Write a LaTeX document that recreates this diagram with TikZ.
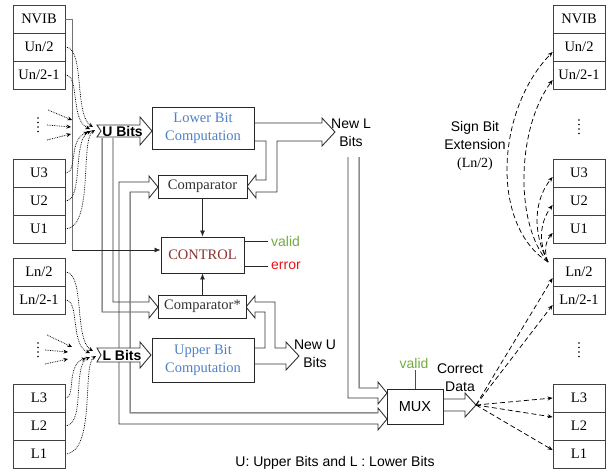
\documentclass[tikz,border=0pt]{standalone}
\usepackage{fontspec}
\setmainfont{Liberation Serif}
\setsansfont{Liberation Sans}
\usetikzlibrary{arrows.meta,calc}
\definecolor{blueT}{RGB}{79,129,199}
\definecolor{ctrlT}{RGB}{140,50,50}
\definecolor{validG}{RGB}{112,173,60}
\definecolor{errR}{RGB}{235,20,25}
\definecolor{cmpT}{RGB}{50,50,50}
\tikzset{
  cell/.style={draw=black!75, line width=0.8pt, minimum width=52pt, minimum height=28pt, inner sep=0pt, font={\fontsize{14.5}{18}\selectfont}},
  box/.style={draw=black!85, fill=white, line width=0.9pt, inner sep=0pt, align=center, font={\fontsize{14.5}{18}\selectfont}},
  busA/.style={draw=black!80, line width=0.9pt, line join=miter},
  busB/.style={draw=black!45, line width=0.9pt},
  sig/.style={draw=black!85, line width=0.8pt, -{Latex[length=6pt,width=5pt]}},
  dotarr/.style={densely dotted, line width=0.75pt, -{Stealth[length=4.5pt,width=4pt]}},
  dasharr/.style={dash pattern=on 5pt off 3pt, line width=0.75pt, -{Stealth[length=5pt,width=4pt]}},
  lbl/.style={font={\sffamily\fontsize{14}{18}\selectfont}, align=center, inner sep=0pt},
  bitlbl/.style={font={\sffamily\bfseries\fontsize{14}{17}\selectfont}, inner sep=0pt},
  vdot/.style={fill=black, radius=0.8pt}
}
\begin{document}
\begin{tikzpicture}[x=1pt,y=-1pt]
\useasboundingbox (0,0) rectangle (610,475);

% ---------- left cells ----------
\node[cell] (lNVIB) at (39,19) {NVIB};
\node[cell] (lUn2) at (39,47) {Un/2};
\node[cell] (lUn21) at (39,75) {Un/2-1};
\node[cell] (lU3) at (39,173) {U3};
\node[cell] (lU2) at (39,201) {U2};
\node[cell] (lU1) at (39,229) {U1};
\node[cell] (lLn2) at (39,272) {Ln/2};
\node[cell] (lLn21) at (39,300) {Ln/2-1};
\node[cell] (lL3) at (39,398) {L3};
\node[cell] (lL2) at (39,426) {L2};
\node[cell] (lL1) at (39,454) {L1};
% ---------- right cells ----------
\node[cell] (rNVIB) at (579,19) {NVIB};
\node[cell] (rUn2) at (579,47) {Un/2};
\node[cell] (rUn21) at (579,75) {Un/2-1};
\node[cell] (rU3) at (579,173) {U3};
\node[cell] (rU2) at (579,201) {U2};
\node[cell] (rU1) at (579,229) {U1};
\node[cell] (rLn2) at (579,272) {Ln/2};
\node[cell] (rLn21) at (579,300) {Ln/2-1};
\node[cell] (rL3) at (579,398) {L3};
\node[cell] (rL2) at (579,426) {L2};
\node[cell] (rL1) at (579,454) {L1};

% vertical dots
\foreach \dx/\dy in {38/118, 38/343, 579/120, 579/343}{
  \foreach \k in {0,4.5,9,13.5} \fill[vdot] (\dx,\dy+\k) circle;
}

% ---------- NVIB line to CONTROL ----------
\coordinate (nv1) at (72,19);
\coordinate (nv2) at (72,250);
\draw[draw=black!55, line width=0.9pt] (lNVIB.east) -- (nv1) -- (nv2);

% ---------- buses ----------
% U bits down to Comparator*
\draw[busA] (102,138) -- (102,312) -- (149,312) -- (149,318) -- (158,307) -- (149,296) -- (149,302) -- (113,302) -- (113,138);
\draw[busB] (102,138) -- (102,311.5);
% L bits up to Comparator
\draw[busA] (119,348) -- (119,182) -- (149,182) -- (149,176) -- (158,187) -- (149,198) -- (149,192) -- (130,192) -- (130,348);
\draw[busB] (130,192.5) -- (130,348);
% L bits down to MUX
\draw[busA] (119,362) -- (119,424) -- (378,424) -- (378,430) -- (387,419) -- (378,408) -- (378,413) -- (130,413) -- (130,362);
\draw[busB] (130,362) -- (130,412.5) -- (377.5,412.5);
% New L arrow + branch to Comparator
\draw[busA] (254,123) -- (322,123) -- (322,118) -- (335,132) -- (322,146) -- (322,141) -- (277,141) -- (277,192) -- (256,192) -- (256,198) -- (247,186.5) -- (256,175) -- (256,180) -- (266,180) -- (266,141) -- (254,141);
% New L bits to MUX
\draw[busA] (348,157) -- (348,398) -- (378,398) -- (378,404) -- (387,393) -- (378,382) -- (378,388) -- (359,388) -- (359,157);
\draw[busB] (359,157) -- (359,387.5);
% New U arrow + branch to Comparator*
\draw[busA] (254,348) -- (265,348) -- (265,312) -- (255,312) -- (255,318) -- (246,307) -- (255,296) -- (255,302) -- (275,302) -- (275,348) -- (286,348) -- (286,342) -- (299,356) -- (286,370) -- (286,364) -- (254,364);
% MUX output
\draw[busA] (443,399) -- (465,399) -- (465,393) -- (476,405) -- (465,417) -- (465,411) -- (443,411);
\coordinate (mtip) at (476,405);

% ---------- U Bits / L Bits arrows ----------
\filldraw[busA, fill=white] (97,125) -- (140,125) -- (140,117) -- (152,131) -- (140,145) -- (140,137) -- (97,137) -- (101,131) -- cycle;
\node[bitlbl] (ubits) at (122.5,131) {U Bits};
\filldraw[busA, fill=white] (97,348) -- (140,348) -- (140,342) -- (151,355) -- (140,368) -- (140,362) -- (97,362) -- (101,355) -- cycle;
\node[bitlbl] (lbits) at (122,355) {L Bits};

% ---------- boxes ----------
\node[box, minimum width=102pt, minimum height=42pt, text=blueT] (lbc) at (203,128) {Lower Bit\\Computation};
\node[box, minimum width=89pt, minimum height=23pt, text=cmpT] (cmp) at (202.5,186.5) {Comparator};
\node[box, minimum width=83pt, minimum height=36pt, text=ctrlT] (ctrl) at (202.5,255) {CONTROL};
\node[box, minimum width=88pt, minimum height=23pt, text=cmpT] (cmps) at (202.5,306.5) {Comparator*};
\node[box, minimum width=102pt, minimum height=44pt, text=blueT] (ubc) at (203,360) {Upper Bit\\Computation};
\node[box, minimum width=56pt, minimum height=35pt, font={\sffamily\fontsize{14.5}{17}\selectfont}] (mux) at (415,406.5) {MUX};

% ---------- signal arrows ----------
\draw[sig] (nv2) -- (ctrl.west |- nv2);
\draw[sig] (cmp.south) -- (ctrl.north);
\draw[sig] (cmps.north) -- (ctrl.south);
\draw[draw=black!85, line width=0.8pt] (ctrl.east |- 0,241) -- (268,241);
\draw[draw=black!85, line width=0.8pt] (ctrl.east |- 0,266) -- (268,266);
\node[lbl, text=validG, anchor=west] (cvalid) at (271,241) {valid};
\node[lbl, text=errR, anchor=west] (cerror) at (271,266) {error};
\node[lbl, text=validG] (mvalid) at (414,363) {valid};
\draw[draw=black!70, line width=0.8pt] (mux.north) -- (415,370);

% ---------- labels ----------
\node[lbl] (newl) at (351,133) {New L\\Bits};
\node[lbl] (newu) at (315,353.5) {New U\\Bits};
\node[lbl] (cdata) at (460,378) {Correct\\Data};
\node[lbl] (sbe) at (475,146) {Sign Bit\\Extension\\{\rmfamily (Ln/2)}};
\node[lbl] (note) at (335,463) {U: Upper Bits and L : Lower Bits};

% ---------- left dotted arrows (U) ----------
\draw[dotarr] (lUn2.east) .. controls (85,47) and (74,115) .. (93,127);
\draw[dotarr] (lUn21.east) .. controls (80,75) and (70,120) .. (90,129);
\draw[dotarr] (lU3.east) .. controls (78,173) and (68,140) .. (88,132);
\draw[dotarr] (lU2.east) .. controls (84,200) and (72,140) .. (91,131);
\draw[dotarr] (lU1.east) .. controls (94,228) and (80,140) .. (95,130);
\draw[dotarr] (48,110) -- (72,120);
\draw[dotarr] (47,125) -- (71,127);
\draw[dotarr] (47,140) -- (71,134);
% ---------- left dotted arrows (L) ----------
\draw[dotarr] (lLn2.east) .. controls (85,272) and (74,340) .. (93,351);
\draw[dotarr] (lLn21.east) .. controls (80,300) and (70,345) .. (90,353);
\draw[dotarr] (lL3.east) .. controls (76,398) and (66,365) .. (86,358);
\draw[dotarr] (lL2.east) .. controls (86,424) and (72,365) .. (90,357);
\draw[dotarr] (lL1.east) .. controls (96,452) and (82,365) .. (96,356);
\draw[dotarr] (47,335) -- (72,347);
\draw[dotarr] (45,350) -- (68,352);
\draw[dotarr] (45,364) -- (68,359);

% ---------- right dashed arrows ----------
\draw[dasharr] (mtip) -- (rL3.west);
\draw[dasharr] (mtip) -- (rL2.west |- 0,417);
\draw[dasharr] (mtip) -- (rL1.west |- 0,450);
\draw[dasharr] (mtip) -- (rLn2.west |- 0,278);
\draw[dasharr] (mtip) -- (rLn21.west |- 0,305);
\coordinate (sbs) at (548,262);
\draw[dasharr] (sbs) .. controls (490,225) and (496,110) .. (rUn2.west |- 0,52);
\draw[dasharr] (sbs) .. controls (515,225) and (516,130) .. (rUn21.west |- 0,80);
\draw[dasharr] (sbs) .. controls (532,232) and (534,200) .. (rU3.west |- 0,177);
\draw[dasharr] (sbs) .. controls (538,242) and (540,222) .. (rU2.west |- 0,205);
\draw[dasharr] (sbs) .. controls (544,252) and (545,242) .. (rU1.west |- 0,233);
\end{tikzpicture}
\end{document}
